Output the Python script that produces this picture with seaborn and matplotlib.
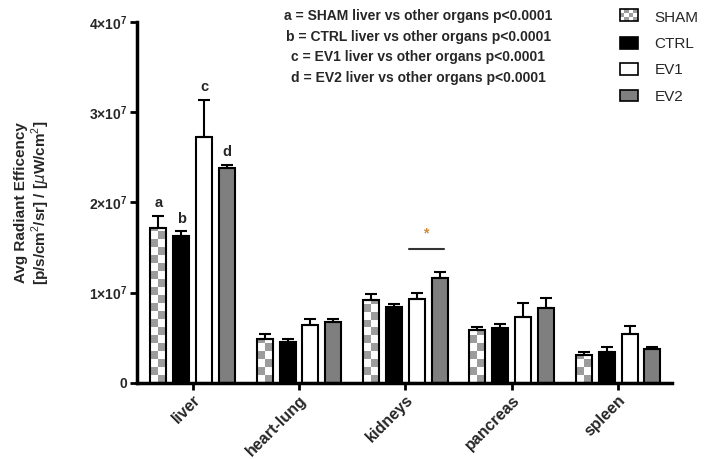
import numpy as np
import pandas as pd
import seaborn as sns
import matplotlib.pyplot as plt
from matplotlib.colors import ListedColormap
from matplotlib.patches import Rectangle
from matplotlib.legend_handler import HandlerBase

# data (units of 1e7)
organs = ['liver', 'heart-lung', 'kidneys', 'pancreas', 'spleen']
groups = ['SHAM', 'CTRL', 'EV1', 'EV2']
sham = [1.72, 0.49, 0.92, 0.59, 0.31]
ctrl = [1.63, 0.45, 0.84, 0.61, 0.34]
ev1 = [2.73, 0.64, 0.93, 0.73, 0.54]
ev2 = [2.38, 0.67, 1.16, 0.83, 0.38]
sham_err = [0.13, 0.05, 0.06, 0.03, 0.03]
ctrl_err = [0.05, 0.04, 0.03, 0.04, 0.06]
ev1_err = [0.41, 0.07, 0.07, 0.16, 0.09]
ev2_err = [0.04, 0.04, 0.07, 0.11, 0.02]
liver_letters = ['a', 'b', 'c', 'd']
yticks = [0, 1, 2, 3, 4]

means = {'SHAM': sham, 'CTRL': ctrl, 'EV1': ev1, 'EV2': ev2}
errs = {'SHAM': sham_err, 'CTRL': ctrl_err, 'EV1': ev1_err, 'EV2': ev2_err}

rows = []
for g in groups:
    for o, m, e in zip(organs, means[g], errs[g]):
        rows.append({'organ': o, 'group': g, 'value': m * 1e7, 'err': e * 1e7})
df = pd.DataFrame(rows)

sns.set_style('ticks')
plt.rcParams['font.family'] = ['Liberation Sans', 'DejaVu Sans']
plt.rcParams['mathtext.fontset'] = 'custom'
plt.rcParams['mathtext.rm'] = 'Liberation Sans'
plt.rcParams['mathtext.bf'] = 'Liberation Sans:bold'

palette = {'SHAM': 'white', 'CTRL': 'black', 'EV1': 'white', 'EV2': '#7f7f7f'}
checker_grey = '#9c9c9c'

fig = plt.figure(figsize=(7.04, 4.59), dpi=100)
ax = fig.add_axes([0.195, 0.166, 0.76, 0.786])

sns.barplot(data=df, x='organ', y='value', hue='group', order=organs,
            hue_order=groups, palette=palette, edgecolor='black', linewidth=1.5,
            width=0.86, gap=0.3, errorbar=None, legend=False, ax=ax)

# error bars (upper only) and checkered SHAM bars
cell = 0.088e7
for g, cont in zip(groups, ax.containers):
    xs = np.array([p.get_x() + p.get_width() / 2 for p in cont.patches])
    sub = df[df.group == g].set_index('organ').loc[organs]
    ax.errorbar(xs, sub['value'], yerr=[np.zeros(len(xs)), sub['err']],
                fmt='none', ecolor='black', elinewidth=1.5, capsize=4.5,
                capthick=1.5, zorder=3)
    if g == 'SHAM':
        for p in cont.patches:
            p.set_facecolor('none')
            p.set_zorder(2)
            n = int(np.ceil(p.get_height() / cell))
            arr = np.indices((n, 2)).sum(axis=0) % 2
            im = ax.imshow(arr, cmap=ListedColormap(['white', checker_grey]),
                           extent=(p.get_x(), p.get_x() + p.get_width(), n * cell, 0),
                           aspect='auto', interpolation='nearest', zorder=1.5)
            im.set_clip_path(p)

# letters above the liver bars
for g, letter, cont in zip(groups, liver_letters, ax.containers):
    p = cont.patches[0]
    top = means[g][0] * 1e7 + errs[g][0] * 1e7
    ax.annotate(letter, (p.get_x() + p.get_width() / 2, top), xytext=(0, 4),
                textcoords='offset points', ha='center', va='bottom',
                fontsize=10.5, fontweight='bold')

# significance bar for kidneys EV1 vs EV2
p1 = ax.containers[2].patches[2]
p2 = ax.containers[3].patches[2]
ax.plot([p1.get_x(), p2.get_x() + p2.get_width() * 0.75], [1.48e7, 1.48e7],
        color='#333333', lw=1.5)
ax.text((p1.get_x() + p2.get_x() + p2.get_width() * 0.75) / 2, 1.66e7, '*',
        ha='center', va='center', color='#d08a3a', fontsize=10, fontweight='bold')

ax.set_xlim(-0.52, 4.51)
ax.set_ylim(0, 4e7)
ax.set_yticks([t * 1e7 for t in yticks])
ax.set_yticklabels(['0'] + [r'$\mathbf{%d{\times}10^{7}}$' % t for t in yticks[1:]])
for lab in ax.get_yticklabels():
    lab.set_fontweight('bold')
    lab.set_fontsize(10)
ax.set_xticks(range(len(organs)))
ax.set_xticklabels(organs, rotation=45, ha='right', rotation_mode='anchor',
                   fontsize=11.5, fontweight='bold')
ax.set_xlabel('')
ax.set_ylabel('Avg Radiant Efficency\n[p/s/cm$^2$/sr] / [$\\mu$W/cm$^2$]',
              fontsize=11, fontweight='bold', labelpad=27, linespacing=1.1)
ax.tick_params(axis='both', width=2, length=5, color='black', pad=2)
for s in ['left', 'bottom']:
    ax.spines[s].set_linewidth(2.5)
    ax.spines[s].set_color('black')
sns.despine(ax=ax)

fig.text(0.594, 1 - 47 / 459,
         'a = SHAM liver vs other organs p<0.0001\n'
         'b = CTRL liver vs other organs p<0.0001\n'
         'c = EV1 liver vs other organs p<0.0001\n'
         'd = EV2 liver vs other organs p<0.0001',
         ha='center', va='center', multialignment='center',
         fontsize=10, fontweight='bold', linespacing=1.6)


class CheckerHandler(HandlerBase):
    def create_artists(self, legend, orig, xd, yd, w, h, fontsize, trans):
        arts = []
        nx, ny = 4, 3
        for i in range(nx):
            for j in range(ny):
                c = checker_grey if (i + j) % 2 else 'white'
                arts.append(Rectangle((xd + i * w / nx, yd + j * h / ny), w / nx, h / ny,
                                      facecolor=c, edgecolor='none', transform=trans))
        arts.append(Rectangle((xd, yd), w, h, facecolor='none', edgecolor='black',
                              lw=1.2, transform=trans))
        return arts


handles = [Rectangle((0, 0), 1, 1, facecolor=palette[g], edgecolor='black', lw=1.2)
           for g in groups]
ax.legend(handles, groups, handler_map={handles[0]: CheckerHandler()},
          loc='upper left', bbox_to_anchor=(0.88, 0.977),
          bbox_transform=fig.transFigure, frameon=False, fontsize=11,
          handlelength=1.2, handleheight=0.8, handletextpad=1.1,
          labelspacing=0.8, borderaxespad=0, borderpad=0)

fig.savefig('out.png', dpi=100)
